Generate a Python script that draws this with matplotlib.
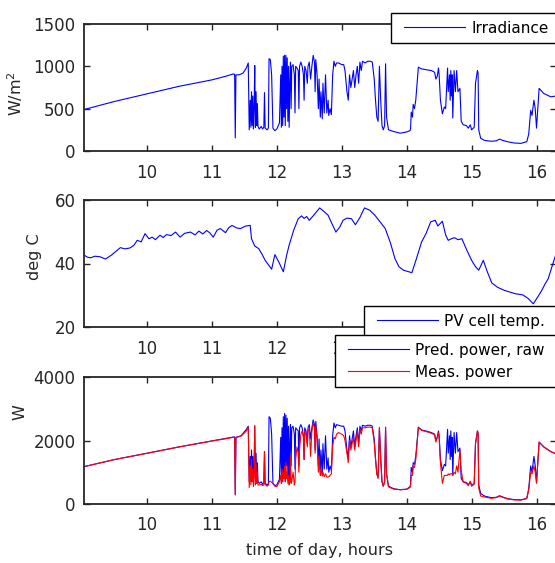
# -*- coding: utf-8 -*-
"""
Irradiance, PV cell temperature and PV power over one afternoon
"""
import matplotlib
matplotlib.use("Agg")
import matplotlib.pyplot as plt
from matplotlib.lines import Line2D
from matplotlib.legend_handler import HandlerLine2D

plt.rcParams['font.family'] = ['DejaVu Sans']

# irradiance, W/m2 (time of day in hours)
irr_t = [9.03, 9.5, 10.0, 10.5, 11.0, 11.2, 11.33, 11.35, 11.36, 11.37, 11.42, 11.48, 11.53, 11.56,
         11.575, 11.59, 11.60, 11.61, 11.62, 11.63, 11.64, 11.65, 11.66, 11.67, 11.68, 11.69, 11.70,
         11.71, 11.73, 11.76, 11.78, 11.80, 11.81, 11.82, 11.85, 11.87, 11.88, 11.90, 11.92, 11.94,
         11.97, 12.00, 12.04, 12.06, 12.07, 12.08, 12.09, 12.10, 12.11, 12.12, 12.13, 12.14, 12.15,
         12.16, 12.17, 12.18, 12.19, 12.20, 12.21, 12.22, 12.23, 12.25, 12.27, 12.28, 12.29, 12.31,
         12.33, 12.34, 12.35, 12.37, 12.39, 12.41, 12.42, 12.43, 12.45, 12.47, 12.48, 12.50, 12.52,
         12.54, 12.56, 12.58, 12.59, 12.60, 12.62, 12.64, 12.65, 12.67, 12.68, 12.70, 12.71, 12.73,
         12.75, 12.77, 12.79, 12.80, 12.82, 12.84, 12.86, 12.88, 12.90, 12.92, 12.95, 13.00, 13.03,
         13.05, 13.08, 13.10, 13.12, 13.14, 13.16, 13.18, 13.20, 13.22, 13.24, 13.26, 13.28, 13.30,
         13.32, 13.36, 13.40, 13.44, 13.47, 13.50, 13.52, 13.54, 13.56, 13.58, 13.60, 13.62, 13.64,
         13.66, 13.675, 13.69, 13.72, 13.80, 13.90, 14.00, 14.05, 14.06, 14.07, 14.09, 14.10, 14.12,
         14.14, 14.18, 14.23, 14.30, 14.38, 14.43, 14.45, 14.47, 14.49, 14.50, 14.52, 14.55, 14.58,
         14.60, 14.63, 14.64, 14.66, 14.67, 14.68, 14.69, 14.70, 14.71, 14.73, 14.75, 14.77, 14.79,
         14.82, 14.84, 14.87, 14.92, 14.95, 14.98, 15.00, 15.04, 15.06, 15.09, 15.10, 15.11, 15.14,
         15.20, 15.30, 15.38, 15.43, 15.48, 15.55, 15.65, 15.76, 15.85, 15.88, 15.91, 15.93, 15.96,
         15.98, 16.00, 16.04, 16.11, 16.22, 16.30]
irr = [490, 585, 675, 765, 840, 880, 910, 905, 155, 900, 900, 920, 980, 1040,
       250, 600, 280, 700, 300, 650, 260, 500, 1010, 280, 700, 300, 560,
       290, 260, 290, 260, 280, 690, 270, 250, 270, 1090, 1080, 900, 270,
       240, 260, 330, 900, 280, 1000, 300, 1120, 400, 1130, 300, 1130, 500,
       1100, 350, 1000, 280, 800, 1050, 500, 1000, 1020, 900, 450, 1000, 980,
       950, 500, 1000, 1050, 1000, 900, 600, 1000, 950, 800, 1000, 1050, 850,
       1000, 1130, 1050, 700, 1080, 900, 500, 850, 400, 700, 380, 800, 450,
       900, 450, 600, 420, 500, 430, 900, 1060, 1000, 1040, 1040, 1020, 1020,
       950, 700, 600, 900, 750, 850, 950, 750, 900, 1000, 800, 1050, 950,
       1060, 1040, 1060, 1060, 1050, 850, 600, 400, 350, 1000, 600, 300, 250,
       300, 1030, 400, 250, 230, 210, 225, 240, 260, 460, 400, 550, 500,
       600, 990, 970, 960, 950, 930, 850, 880, 980, 900, 600, 440, 520,
       500, 980, 700, 900, 600, 950, 650, 900, 390, 950, 700, 950, 700,
       740, 350, 310, 300, 270, 310, 250, 280, 800, 950, 920, 250, 150,
       125, 115, 120, 140, 125, 110, 95, 90, 110, 200, 480, 420, 600,
       500, 270, 740, 680, 640, 650]

# PV cell temperature, deg C
temp_t = [9.03, 9.08, 9.13, 9.2, 9.28, 9.36, 9.45, 9.52, 9.59, 9.66, 9.74, 9.8, 9.85, 9.91, 9.97,
          10.03, 10.08, 10.13, 10.2, 10.25, 10.3, 10.37, 10.44, 10.51, 10.58, 10.67, 10.74, 10.8,
          10.86, 10.92, 10.97, 11.02, 11.08, 11.13, 11.21, 11.26, 11.31, 11.38, 11.44, 11.52, 11.59,
          11.61, 11.66, 11.72, 11.77, 11.82, 11.92, 11.97, 12.03, 12.1, 12.15, 12.19, 12.26, 12.33,
          12.38, 12.42, 12.46, 12.5, 12.58, 12.66, 12.72, 12.79, 12.85, 12.91, 12.97, 13.02, 13.08,
          13.15, 13.21, 13.28, 13.35, 13.43, 13.51, 13.58, 13.67, 13.75, 13.82, 13.88, 13.95, 14.08,
          14.15, 14.23, 14.3, 14.37, 14.44, 14.48, 14.55, 14.6, 14.64, 14.7, 14.74, 14.79, 14.85,
          14.92, 15.0, 15.06, 15.11, 15.18, 15.24, 15.31, 15.4, 15.51, 15.67, 15.79, 15.87, 15.95,
          16.02, 16.08, 16.13, 16.18, 16.23, 16.3]
temp = [42.7, 42.0, 41.8, 42.3, 42.1, 41.4, 42.6, 43.8, 45.0, 44.6, 44.9, 45.8, 47.3, 46.8, 49.4,
        47.8, 48.3, 47.5, 48.9, 48.2, 49.1, 48.8, 49.9, 48.3, 49.5, 49.9, 49.0, 50.2,
        49.3, 50.4, 49.6, 48.3, 50.5, 51.0, 49.7, 51.3, 52.0, 51.2, 51.0, 51.8, 52.0,
        47.8, 45.5, 44.7, 43.0, 41.0, 38.2, 42.8, 40.5, 37.4, 42.5, 45.8, 50.5, 54.1,
        55.0, 54.2, 54.8, 53.6, 55.5, 57.5, 56.5, 55.2, 52.5, 49.9, 51.5, 53.6, 54.3,
        54.1, 52.2, 54.5, 57.5, 56.8, 55.2, 53.4, 51.0, 46.5, 41.5, 39.0, 37.9, 37.1,
        41.5, 46.8, 49.5, 53.1, 53.6, 51.8, 53.3, 49.0, 47.3, 47.9, 48.1, 47.5, 47.8,
        44.5, 41.0, 39.0, 37.9, 41.0, 37.5, 33.9, 32.5, 31.5, 30.5, 30.1, 29.0, 27.3,
        29.5, 31.5, 33.5, 35.2, 38.5, 43.0]

# predicted (raw) and measured PV power, W
pw_t = [9.03, 9.5, 10.0, 10.5, 11.0, 11.2, 11.33, 11.35, 11.36, 11.37, 11.45, 11.53, 11.56,
        11.575, 11.59, 11.60, 11.61, 11.62, 11.63, 11.64, 11.65, 11.66, 11.67, 11.68, 11.69,
        11.70, 11.71, 11.73, 11.76, 11.78, 11.80, 11.81, 11.82, 11.85, 11.87, 11.88, 11.90,
        11.92, 11.94, 11.97, 12.00, 12.04, 12.06, 12.07, 12.08, 12.09, 12.10, 12.11, 12.12,
        12.13, 12.14, 12.15, 12.16, 12.17, 12.18, 12.19, 12.20, 12.21, 12.22, 12.23, 12.25,
        12.27, 12.28, 12.29, 12.31, 12.33, 12.34, 12.35, 12.37, 12.39, 12.41, 12.42, 12.43,
        12.45, 12.47, 12.48, 12.50, 12.52, 12.54, 12.56, 12.58, 12.59, 12.60, 12.62, 12.64,
        12.65, 12.67, 12.68, 12.70, 12.71, 12.73, 12.75, 12.77, 12.79, 12.80, 12.82, 12.84,
        12.86, 12.88, 12.90, 12.92, 12.95, 13.00, 13.03, 13.05, 13.08, 13.10, 13.12, 13.14,
        13.16, 13.18, 13.20, 13.22, 13.24, 13.26, 13.28, 13.30, 13.32, 13.36, 13.40, 13.44,
        13.47, 13.50, 13.52, 13.54, 13.56, 13.58, 13.60, 13.62, 13.64, 13.66, 13.675, 13.69,
        13.72, 13.80, 13.90, 14.00, 14.05, 14.06, 14.07, 14.09, 14.10, 14.12, 14.14, 14.18,
        14.23, 14.30, 14.38, 14.43, 14.45, 14.47, 14.49, 14.50, 14.52, 14.55, 14.58, 14.60,
        14.63, 14.64, 14.66, 14.67, 14.68, 14.69, 14.70, 14.71, 14.73, 14.75, 14.77, 14.79,
        14.82, 14.84, 14.87, 14.92, 14.95, 14.98, 15.00, 15.04, 15.06, 15.09, 15.10, 15.11,
        15.14, 15.20, 15.30, 15.38, 15.43, 15.48, 15.55, 15.65, 15.76, 15.85, 15.88, 15.91,
        15.93, 15.96, 15.98, 16.00, 16.04, 16.11, 16.22, 16.30]
pred_w = [1176, 1400, 1600, 1800, 1985, 2060, 2110, 2110, 300, 2100, 2150, 2350, 2450,
          700, 1500, 800, 1700, 900, 1500, 700, 1200, 2450, 800, 1600, 800,
          1300, 700, 650, 700, 620, 680, 1650, 650, 600, 650, 2750, 2700,
          2200, 650, 580, 600, 780, 2100, 700, 2400, 700, 2750, 1000, 2850,
          700, 2800, 1200, 2700, 850, 2450, 700, 1900, 2500, 1200, 2400, 2450,
          2200, 1100, 2400, 2350, 2300, 1200, 2400, 2500, 2400, 2150, 1400, 2400,
          2300, 1900, 2400, 2500, 2050, 2400, 2650, 2500, 1700, 2600, 2150, 1200,
          2050, 950, 1700, 900, 1900, 1100, 2150, 1100, 1450, 1000, 1200, 1050,
          2150, 2550, 2400, 2500, 2480, 2450, 2450, 2300, 1700, 1450, 2150, 1800,
          2050, 2300, 1800, 2150, 2400, 1900, 2450, 2300, 2480, 2450, 2480, 2480,
          2450, 2050, 1450, 950, 850, 2400, 1450, 700, 560, 700, 2420, 950,
          560, 480, 450, 470, 540, 600, 1150, 1000, 1300, 1250, 1500, 2420,
          2330, 2300, 2250, 2200, 2000, 2100, 2300, 2150, 1400, 1050, 1250, 1200,
          2350, 1600, 2150, 1400, 2300, 1500, 2100, 900, 2250, 1600, 2250, 1650,
          1760, 800, 700, 680, 600, 700, 580, 650, 1900, 2300, 2200, 600,
          330, 250, 200, 210, 260, 220, 170, 140, 130, 180, 480, 1200,
          1000, 1500, 1200, 700, 1950, 1800, 1650, 1580]
meas_w = [1176, 1400, 1596, 1800, 1984, 2050, 2100, 2100, 283, 2090, 2140, 2300, 2430,
          520, 1200, 600, 1400, 700, 1100, 550, 900, 2470, 600, 1300, 650,
          1000, 600, 600, 620, 580, 600, 1650, 620, 560, 600, 700, 720,
          680, 640, 560, 550, 700, 900, 650, 1100, 700, 1000, 800, 1200,
          700, 1300, 800, 1000, 650, 900, 600, 700, 1500, 650, 700, 1000,
          600, 700, 1400, 1800, 1600, 1000, 1700, 2200, 2300, 2100, 1400, 2300,
          2200, 1800, 2300, 2400, 1500, 2300, 2550, 2400, 1600, 2450, 2000, 1000,
          1500, 900, 1100, 880, 1000, 860, 950, 850, 850, 860, 900, 950,
          1800, 2100, 2050, 2200, 2250, 2200, 2150, 2000, 1600, 1300, 2000, 1700,
          1900, 2100, 1700, 2000, 2300, 1800, 2350, 2200, 2400, 2400, 2420, 2420,
          2400, 1950, 1400, 950, 800, 2400, 1400, 700, 560, 700, 2400, 950,
          540, 470, 450, 460, 520, 600, 900, 900, 1200, 1150, 1400, 2400,
          2320, 2280, 2230, 2180, 1950, 2080, 2250, 2100, 1300, 650, 900, 900,
          900, 950, 920, 950, 950, 950, 960, 900, 1000, 950, 1200, 1000,
          1700, 1050, 700, 650, 580, 720, 560, 620, 1900, 2300, 2250, 500,
          250, 220, 180, 200, 250, 210, 160, 130, 125, 170, 450, 1000,
          950, 1200, 1000, 650, 1950, 1800, 1650, 1580]

hours = [10, 11, 12, 13, 14, 15, 16]
# middle panel: the last hour labels sit under the power legend
hour_labels_mid = ["10", "11", "12", "13", "", "", ""]
dark = (0.15, 0.15, 0.15)


# common MATLAB-like axes styling
def styleAxes(ax, yticks):
    ax.set_xlim(9.03, 16.3)
    ax.set_ylim(yticks[0], yticks[-1])
    ax.set_xticks(hours)
    ax.set_yticks(yticks)
    ax.tick_params(direction="in", top=True, right=True, length=4, width=1,
                   labelsize=12, colors=dark)
    ax.tick_params(axis="x", pad=9)
    ax.tick_params(axis="y", pad=6)
    for s in ax.spines.values():
        s.set_linewidth(1.3)
        s.set_color(dark)


# legend box runs past the right edge of the figure, like the original
def addLegend(ax, fig, x, y):
    leg = ax.legend(loc="upper left", bbox_to_anchor=(x / 555, 1 - y / 563, (580 - x) / 555, 0),
                    bbox_transform=fig.transFigure, mode="expand", fontsize=11,
                    frameon=True, fancybox=False, framealpha=1, edgecolor="black",
                    handlelength=4.7, handletextpad=0.05, labelspacing=0.45,
                    borderpad=0.5, borderaxespad=0,
                    handler_map={Line2D: HandlerLine2D(marker_pad=0.35, numpoints=2)})
    leg.get_frame().set_linewidth(1)


fig = plt.figure(figsize=(5.55, 5.63), dpi=100)
w = 472 / 555
h = 127 / 563

# irradiance panel
ax1 = fig.add_axes([84 / 555, 1 - 151 / 563, w, h])
ax1.plot(irr_t, irr, color="blue", lw=0.8, label="Irradiance")
styleAxes(ax1, [0, 500, 1000, 1500])
ax1.set_ylabel("W/m$^2$", fontsize=11.5, color=dark)
ax1.yaxis.set_label_coords(-0.125, 0.45)
addLegend(ax1, fig, 391, 13)

# temperature panel
ax2 = fig.add_axes([84 / 555, 1 - 327 / 563, w, h])
ax2.plot(temp_t, temp, color="blue", lw=0.8, label="PV cell temp.")
styleAxes(ax2, [20, 40, 60])
ax2.set_xticklabels(hour_labels_mid)
ax2.set_ylabel("deg C", fontsize=11.5, color=dark)
ax2.yaxis.set_label_coords(-0.09, 0.55)
addLegend(ax2, fig, 364, 306)

# power panel
ax3 = fig.add_axes([84 / 555, 1 - 504 / 563, w, h])
ax3.plot(pw_t, pred_w, color="blue", lw=0.8, label="Pred. power, raw")
ax3.plot(pw_t, meas_w, color="red", lw=0.8, label="Meas. power")
styleAxes(ax3, [0, 2000, 4000])
ax3.set_ylabel("W", fontsize=11.5, color=dark)
ax3.yaxis.set_label_coords(-0.12, 0.72)
ax3.set_xlabel("time of day, hours", fontsize=11.5, color=dark)
ax3.xaxis.set_label_coords(0.5, -0.31)
addLegend(ax3, fig, 335, 335)

plt.savefig("out.png", dpi=100)
